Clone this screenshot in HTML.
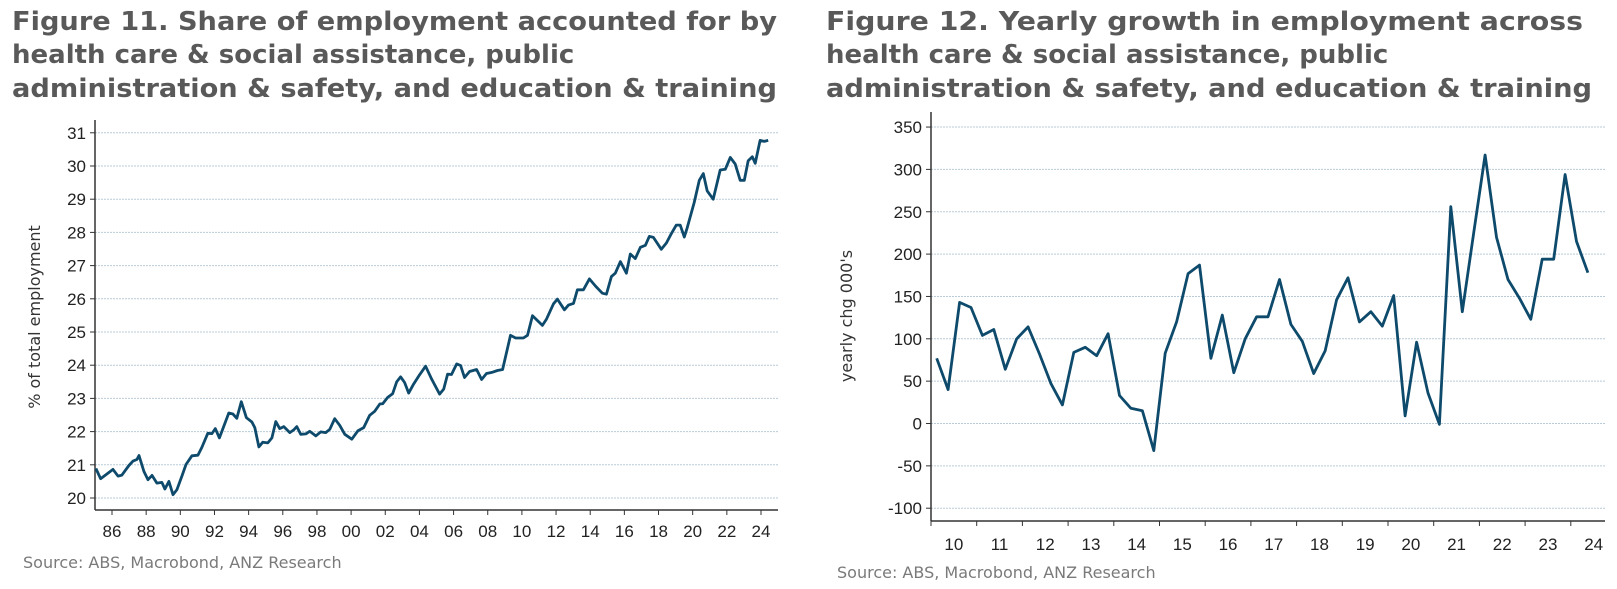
<!DOCTYPE html>
<html><head><meta charset="utf-8"><style>
html,body{margin:0;padding:0;background:#fff;}
svg{display:block;}
.t{font-family:"DejaVu Sans","Liberation Sans",sans-serif;font-weight:bold;font-size:26px;fill:#595959;}
.tk{font-family:"Liberation Sans",sans-serif;font-size:17px;fill:#222;}
.src{font-family:"DejaVu Sans","Liberation Sans",sans-serif;font-size:16px;fill:#7a7a7a;}
.ax{font-family:"DejaVu Sans","Liberation Sans",sans-serif;font-size:16px;fill:#333;}
</style></head><body>
<svg id="s" width="1617" height="589" xmlns="http://www.w3.org/2000/svg">
<g>
<text class="t" x="12" y="30" textLength="765" lengthAdjust="spacingAndGlyphs">Figure 11. Share of employment accounted for by</text>
<text class="t" x="12" y="63">health care &amp; social assistance, public</text>
<text class="t" x="12" y="97" textLength="765" lengthAdjust="spacingAndGlyphs">administration &amp; safety, and education &amp; training</text>
<text class="ax" transform="translate(40,317) rotate(-90)" text-anchor="middle">% of total employment</text>
<text class="src" x="23" y="568">Source: ABS, Macrobond, ANZ Research</text>
<g id="c1"></g>
</g>
<g>
<text class="t" x="826" y="30" textLength="757" lengthAdjust="spacingAndGlyphs">Figure 12. Yearly growth in employment across</text>
<text class="t" x="826" y="63">health care &amp; social assistance, public</text>
<text class="t" x="826" y="97" textLength="766" lengthAdjust="spacingAndGlyphs">administration &amp; safety, and education &amp; training</text>
<text class="ax" transform="translate(852,316) rotate(-90)" text-anchor="middle">yearly chg 000's</text>
<text class="src" x="837" y="578">Source: ABS, Macrobond, ANZ Research</text>
<g id="c2"></g>
</g>
</svg>
<script>
// Chart 11 data
const shareYears = [1985.06,1985.33,1986.06,1986.35,1986.58,1986.99,1987.23,1987.46,1987.58,1987.87,1988.11,1988.34,1988.63,1988.92,1989.10,1989.33,1989.57,1989.80,1990.09,1990.33,1990.68,1991.03,1991.26,1991.61,1991.85,1992.05,1992.29,1992.55,1992.84,1993.08,1993.31,1993.57,1993.87,1994.19,1994.36,1994.60,1994.83,1995.12,1995.36,1995.59,1995.82,1996.06,1996.41,1996.64,1996.82,1997.05,1997.35,1997.58,1997.93,1998.22,1998.51,1998.75,1999.04,1999.33,1999.63,2000.04,2000.39,2000.74,2001.09,2001.38,2001.68,2001.85,2002.14,2002.43,2002.67,2002.90,2003.13,2003.37,2003.66,2004.01,2004.36,2004.71,2005.18,2005.42,2005.65,2005.88,2006.18,2006.41,2006.64,2006.94,2007.35,2007.64,2007.93,2008.28,2008.57,2008.87,2009.33,2009.63,2010.09,2010.33,2010.62,2011.20,2011.44,2011.85,2012.08,2012.49,2012.73,2013.02,2013.25,2013.60,2013.95,2014.30,2014.71,2014.95,2015.24,2015.47,2015.77,2016.12,2016.35,2016.64,2016.94,2017.23,2017.46,2017.70,2018.16,2018.46,2018.75,2019.04,2019.27,2019.51,2019.68,2020.09,2020.39,2020.62,2020.85,2021.20,2021.61,2021.91,2022.20,2022.49,2022.78,2023.02,2023.25,2023.49,2023.66,2023.95,2024.19,2024.42];
const shareValues = [20.89,20.58,20.86,20.66,20.69,20.98,21.11,21.16,21.28,20.80,20.55,20.68,20.45,20.47,20.27,20.50,20.10,20.25,20.66,21.01,21.27,21.29,21.52,21.95,21.94,22.09,21.81,22.17,22.56,22.53,22.40,22.90,22.42,22.29,22.12,21.54,21.68,21.66,21.81,22.30,22.09,22.15,21.97,22.05,22.15,21.92,21.93,22.01,21.87,21.99,21.97,22.07,22.39,22.19,21.92,21.77,22.02,22.12,22.49,22.61,22.83,22.84,23.03,23.14,23.50,23.65,23.48,23.16,23.43,23.71,23.97,23.59,23.13,23.28,23.73,23.72,24.04,23.99,23.63,23.81,23.87,23.57,23.75,23.79,23.84,23.87,24.90,24.82,24.82,24.90,25.49,25.20,25.39,25.85,25.99,25.67,25.81,25.86,26.27,26.27,26.60,26.39,26.17,26.14,26.67,26.77,27.12,26.77,27.35,27.21,27.55,27.61,27.88,27.85,27.49,27.68,27.96,28.22,28.22,27.86,28.14,28.90,29.57,29.77,29.25,29.00,29.88,29.90,30.26,30.06,29.57,29.57,30.16,30.28,30.08,30.77,30.74,30.77];
const shareYTicks = [20,21,22,23,24,25,26,27,28,29,30,31];
const shareXTicks = [1986,1988,1990,1992,1994,1996,1998,2000,2002,2004,2006,2008,2010,2012,2014,2016,2018,2020,2022,2024];
// Chart 12 data
const growthStart = 2010.125;
const growthValues = [77,40,143,137,104,111,64,100,114,82,47,22,84,90,80,106,33,18,15,-32,83,120,177,187,77,128,60,100,126,126,170,117,97,59,86,146,172,120,132,115,151,9,96,36,-1,256,132,225,317,220,170,148,123,194,194,294,215,178];
const growthYTicks = [-100,-50,0,50,100,150,200,250,300,350];
const growthXYears = [2010,2011,2012,2013,2014,2015,2016,2017,2018,2019,2020,2021,2022,2023,2024];

const NS="http://www.w3.org/2000/svg";
function mk(parent,tag,attrs){const e=document.createElementNS(NS,tag);for(const k in attrs)e.setAttribute(k,attrs[k]);parent.appendChild(e);return e;}

// Chart 11
(function(){
  const g=document.getElementById('c1');
  const x=y=>112+(y-1986)*(761-112)/38;
  const yv=v=>498-(v-20)*33.2;
  const L=95,R=778,B=510;
  shareYTicks.forEach(v=>{
    const gl=mk(g,'line',{x1:L,x2:R,y1:yv(v),y2:yv(v),stroke:'#b9cbd8','stroke-width':1,'stroke-dasharray':'2,1'});
    
    
    const tm=mk(g,'line',{x1:L-5,x2:L,y1:yv(v),y2:yv(v),stroke:'#333','stroke-width':1});
    
    
    const t=mk(g,'text',{x:L-9,y:yv(v)+6,'text-anchor':'end',class:'tk'});
    t.textContent=v;
    
    
  });
  const ya=mk(g,'line',{x1:L,x2:L,y1:120,y2:B,stroke:'#333','stroke-width':1.5});
  
  
  const xa=mk(g,'line',{x1:L,x2:R,y1:B,y2:B,stroke:'#333','stroke-width':1.5});
  
  
  shareXTicks.forEach(yr=>{
    const tm=mk(g,'line',{x1:x(yr),x2:x(yr),y1:B,y2:B+5,stroke:'#333','stroke-width':1});
    
    
    const t=mk(g,'text',{x:x(yr),y:537,'text-anchor':'middle',class:'tk'});
    t.textContent=String(yr%100).padStart(2,'0');
    
    
  });
  const d=shareValues.map((v,i)=>(i?'L':'M')+x(shareYears[i]).toFixed(1)+','+yv(v).toFixed(1)).join('');
  const p=mk(g,'path',{d:d,fill:'none',stroke:'#0e4a6b','stroke-width':2.8,'stroke-linejoin':'round'});
  
  
})();

// Chart 12
(function(){
  const g=document.getElementById('c2');
  const x=y=>931+(y-2010)*45.7;
  const yv=v=>423.5-v*0.847;
  const L=931,R=1605,B=521;
  growthYTicks.forEach(v=>{
    const gl=mk(g,'line',{x1:L,x2:R,y1:yv(v),y2:yv(v),stroke:'#b9cbd8','stroke-width':1,'stroke-dasharray':'2,1'});
    
    
    const tm=mk(g,'line',{x1:L-5,x2:L,y1:yv(v),y2:yv(v),stroke:'#333','stroke-width':1});
    
    
    const t=mk(g,'text',{x:L-9,y:yv(v)+6,'text-anchor':'end',class:'tk'});
    t.textContent=v;
    
    
  });
  const ya=mk(g,'line',{x1:L,x2:L,y1:112,y2:B,stroke:'#333','stroke-width':1.5});
  
  
  const xa=mk(g,'line',{x1:L,x2:R,y1:B,y2:B,stroke:'#333','stroke-width':1.5});
  
  
  growthXYears.forEach(yr=>{
    const tm=mk(g,'line',{x1:x(yr),x2:x(yr),y1:B,y2:B+5,stroke:'#333','stroke-width':1});
    
    
    const t=mk(g,'text',{x:x(yr+0.5),y:550,'text-anchor':'middle',class:'tk'});
    t.textContent=String(yr%100).padStart(2,'0');
    
    
  });
  const d=growthValues.map((v,i)=>(i?'L':'M')+x(growthStart+i*0.25).toFixed(1)+','+yv(v).toFixed(1)).join('');
  const p=mk(g,'path',{d:d,fill:'none',stroke:'#0e4a6b','stroke-width':2.8,'stroke-linejoin':'round'});
  
  
})();
</script>
</body></html>
